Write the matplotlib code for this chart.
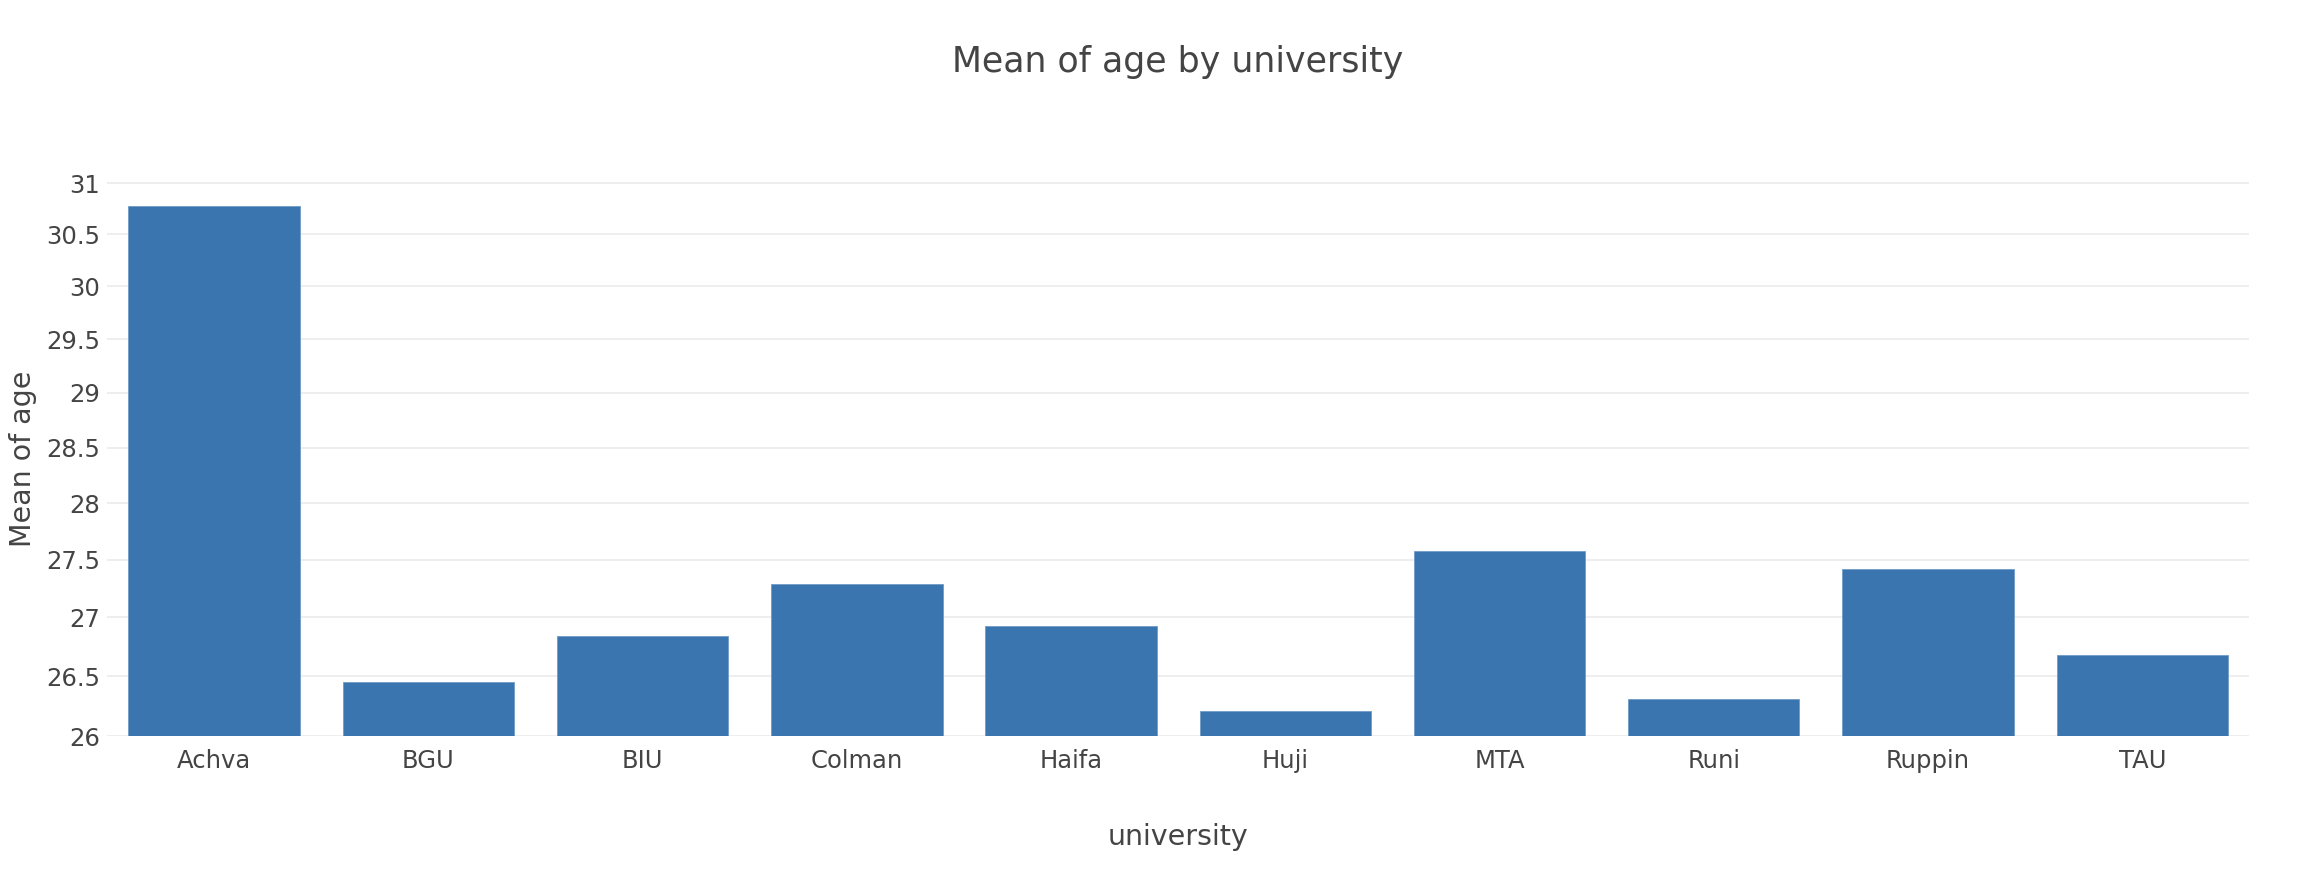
import matplotlib
matplotlib.use("Agg")
import matplotlib.pyplot as plt
from matplotlib.ticker import FixedLocator, NullLocator

universities = ["Achva", "BGU", "BIU", "Colman", "Haifa", "Huji", "MTA", "Runi", "Ruppin", "TAU"]
mean_age = [30.78, 26.45, 26.84, 27.29, 26.93, 26.21, 27.58, 26.31, 27.42, 26.68]
y_ticks = [26, 26.5, 27, 27.5, 28, 28.5, 29, 29.5, 30, 30.5, 31]
y_tick_labels = ["26", "26.5", "27", "27.5", "28", "28.5", "29", "29.5", "30", "30.5", "31"]

text_col = "#444444"
bar_col = "#3a75af"

plt.rcParams["font.family"] = ["DejaVu Sans"]

fig = plt.figure(figsize=(23, 8.9), dpi=100)
ax = fig.add_axes([0.0465, 0.173, 0.9315, 0.638])

x = range(len(universities))
ax.bar(x, mean_age, width=0.8, color=bar_col, edgecolor="#6f9bc7", linewidth=0.6, zorder=2)

# log axis, like the original
ax.set_yscale("log")
ax.set_ylim(26, 31.15)
ax.yaxis.set_major_locator(FixedLocator(y_ticks))
ax.yaxis.set_minor_locator(NullLocator())
ax.set_yticks(y_ticks)
ax.set_yticklabels(y_tick_labels)
ax.set_xlim(-0.5, len(universities) - 0.5)
ax.set_xticks(list(x))
ax.set_xticklabels(universities)

ax.grid(axis="y", color="#ebebeb", linewidth=1.2, zorder=0)
for s in ax.spines.values():
    s.set_visible(False)
ax.tick_params(axis="both", length=0, labelsize=17.5, labelcolor=text_col)
ax.tick_params(axis="x", pad=9)
ax.tick_params(axis="y", pad=5)

ax.set_xlabel("university", fontsize=20.5, color=text_col, labelpad=36)
fig.text(0.004, 0.484, "Mean of age", rotation=90, fontsize=20.5, color=text_col,
         ha="left", va="center")
fig.text(0.512, 0.93, "Mean of age by university", fontsize=25, color=text_col,
         ha="center", va="center")

fig.savefig("out.png", dpi=100, facecolor="white")
